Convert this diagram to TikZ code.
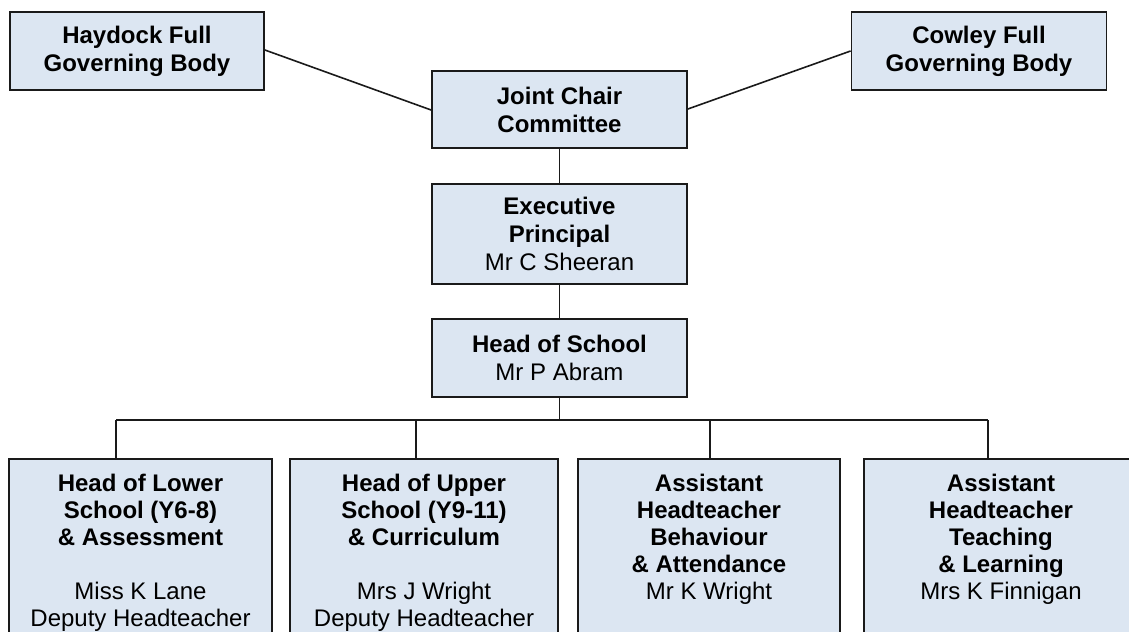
\documentclass[tikz,border=0pt]{standalone}
\usepackage{fontspec}
\setmainfont{Liberation Sans}
\definecolor{boxfill}{HTML}{DCE6F2}
\definecolor{edge}{HTML}{1A1A1A}
\begin{document}
\begin{tikzpicture}[x=1bp,y=-1bp,
  box/.style={draw=edge, line width=1.8bp, fill=boxfill, inner sep=0pt, align=center,
              font=\fontsize{24bp}{28bp}\selectfont},
  title/.style={box, font=\fontsize{24bp}{28bp}\selectfont\bfseries},
  panel/.style={draw=edge, line width=1.8bp, fill=boxfill, inner sep=0pt, anchor=north, minimum height=220bp},
  txt/.style={inner sep=0pt, align=center, anchor=north, font=\fontsize{24bp}{27bp}\selectfont},
  wire/.style={draw=edge, line width=1.6bp}]
\clip (0,0) rectangle (1129,632);

\node[title, minimum width=254bp, minimum height=78bp] (hay) at (137,51) {Haydock Full\\Governing Body};
\node[title, minimum width=255bp, minimum height=78bp] (cow) at (979,51) {Cowley Full\\Governing Body};
\node[title, minimum width=255bp, minimum height=77bp] (jcc) at (559.5,109.5) {Joint Chair\\Committee};
\node[box, minimum width=255bp, minimum height=100bp] (exp) at (559.5,234) {\textbf{Executive}\\\textbf{Principal}\\Mr C Sheeran};
\node[box, minimum width=255bp, minimum height=78bp] (hos) at (559.5,358) {\textbf{Head of School}\\Mr P Abram};

\node[panel, minimum width=263bp] (b1) at (140.5,458) {};
\node[panel, minimum width=268bp] (b2) at (424,458) {};
\node[panel, minimum width=262bp] (b3) at (709,458) {};
\node[panel, minimum width=274bp] (b4) at (1001,458) {};

\node[txt] (t1) at ([yshift=-15.5bp]b1.north) {\textbf{Head of Lower}\\\textbf{School (Y6-8)}\\\textbf{\& Assessment}\\[27bp]Miss K Lane\\Deputy Headteacher};
\node[txt] (t2) at ([yshift=-15.5bp]b2.north) {\textbf{Head of Upper}\\\textbf{School (Y9-11)}\\\textbf{\& Curriculum}\\[27bp]Mrs J Wright\\Deputy Headteacher};
\node[txt] (t3) at ([yshift=-15.5bp]b3.north) {\textbf{Assistant}\\\textbf{Headteacher}\\\textbf{Behaviour}\\\textbf{\& Attendance}\\Mr K Wright};
\node[txt] (t4) at ([yshift=-15.5bp]b4.north) {\textbf{Assistant}\\\textbf{Headteacher}\\\textbf{Teaching}\\\textbf{\& Learning}\\Mrs K Finnigan};

\coordinate (j1) at (116,420);
\coordinate (j2) at (416,420);
\coordinate (j3) at (710,420);
\coordinate (j4) at (988,420);

\draw[wire] ([yshift=1bp]hay.east) -- ([yshift=-0.5bp]jcc.west);
\draw[wire] (cow.west) -- ([yshift=0.5bp]jcc.east);
\draw[wire] (jcc.south) -- (exp.north);
\draw[wire] (exp.south) -- (hos.north);
\draw[wire] (hos.south) -- (hos.south |- j1);
\draw[wire] (j1) -- (j4);
\draw[wire] (j1) -- (j1 |- b1.north);
\draw[wire] (j2) -- (j2 |- b2.north);
\draw[wire] (j3) -- (j3 |- b3.north);
\draw[wire] (j4) -- (j4 |- b4.north);
\end{tikzpicture}
\end{document}
